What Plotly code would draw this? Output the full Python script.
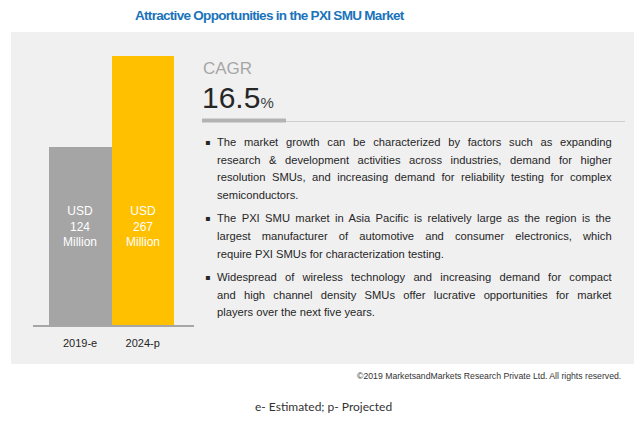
import plotly.graph_objects as go

# ---- data ----
categories = ["2019-e", "2024-p"]
values = [124, 267]
bar_colors = ["#a5a5a5", "#ffc000"]
cagr_value = "16.5"
title_text = "Attractive Opportunities in the PXI SMU Market"
bullet1 = [
    "The market growth can be characterized by factors such as expanding",
    "research & development activities across industries, demand for higher",
    "resolution SMUs, and increasing demand for reliability testing for complex",
    "semiconductors.",
]
bullet2 = [
    "The PXI SMU market in Asia Pacific is relatively large as the region is the",
    "largest manufacturer of automotive and consumer electronics, which",
    "require PXI SMUs for characterization testing.",
]
bullet3 = [
    "Widespread of wireless technology and increasing demand for compact",
    "and high channel density SMUs offer lucrative opportunities for market",
    "players over the next five years.",
]
copyright_text = "©2019 MarketsandMarkets Research Private Ltd. All rights reserved."
footnote_text = "e- Estimated; p- Projected"

W, H = 641, 422

# Arial / Liberation Sans advance widths (per 1000 em), used to justify text lines
_AW = {" ": 278, "&": 667, ",": 278, "-": 333, ".": 278, "'": 191}
_AW.update({d: 556 for d in "0123456789"})
_AW.update(dict(zip("ABCDEFGHIJKLMNOPQRSTUVWXYZ",
                    [667, 667, 722, 722, 667, 611, 778, 722, 278, 500, 667, 556, 833, 722, 778,
                     667, 778, 722, 667, 611, 722, 667, 944, 667, 667, 611])))
_AW.update(dict(zip("abcdefghijklmnopqrstuvwxyz",
                    [556, 556, 500, 556, 556, 278, 556, 556, 222, 222, 500, 222, 833, 556, 556,
                     556, 556, 333, 500, 278, 556, 500, 722, 500, 500, 500])))


def text_width(s, size):
    return sum(_AW.get(ch, 556) for ch in s) * size / 1000.0


def X(px):
    return px / W


def Y(py):
    return 1 - py / H


fig = go.Figure()
fig.add_trace(go.Bar(
    x=categories, y=values,
    marker=dict(color=bar_colors, line=dict(width=0)),
    width=1.0, hoverinfo="skip",
))

shapes = [
    dict(type="rect", xref="paper", yref="paper", x0=X(11), x1=X(634), y0=Y(364), y1=Y(32),
         fillcolor="#f0f0f0", line=dict(width=0), layer="below"),
    dict(type="rect", xref="paper", yref="paper", x0=X(202), x1=X(286), y0=Y(122.5), y1=Y(118.5),
         fillcolor="#b3b3b3", line=dict(width=0)),
    dict(type="line", xref="paper", yref="paper", x0=X(286), x1=X(625), y0=Y(121.5), y1=Y(121.5),
         line=dict(color="#cfcfcf", width=1)),
]

ann = []
ann.append(dict(text="<span style='letter-spacing:-0.7px'><b>" + title_text + "</b></span>",
                x=X(270), y=Y(16), xref="paper", yref="paper",
                showarrow=False, xanchor="center", yanchor="middle",
                font=dict(family="Liberation Sans", size=13.5, color="#1a73bb")))
for c, v in zip(categories, values):
    ann.append(dict(text=f"USD<br>{v}<br>Million", x=c, xref="x", y=Y(227), yref="paper",
                    showarrow=False, xanchor="center", yanchor="middle",
                    font=dict(family="Liberation Sans", size=12, color="#ffffff")))
ann.append(dict(text="CAGR", x=X(201), y=Y(68), xref="paper", yref="paper", showarrow=False,
                xanchor="left", yanchor="middle",
                font=dict(family="Liberation Sans", size=17, color="#a6a6a6")))
ann.append(dict(text=cagr_value + "<span style='font-size:15px;color:#404040'>%</span>",
                x=X(200), y=Y(97), xref="paper", yref="paper", showarrow=False,
                xanchor="left", yanchor="middle",
                font=dict(family="Liberation Sans", size=30, color="#262626")))

TXT_SIZE = 11.2
TXT_LEFT, TXT_RIGHT = 215, 610
line_ys = [[142, 159.5, 177, 194.5], [218, 236, 254], [277, 295, 312]]
for lines, ys in zip([bullet1, bullet2, bullet3], line_ys):
    ann.append(dict(text="▪", x=X(207), y=Y(ys[0]), xref="paper", yref="paper", showarrow=False,
                    xanchor="center", yanchor="middle",
                    font=dict(family="DejaVu Sans", size=8, color="#262626")))
    for i, (t, yy) in enumerate(zip(lines, ys)):
        shown = t.replace("&", "&amp;")
        if i < len(lines) - 1:
            gaps = t.count(" ")
            extra = (TXT_RIGHT - TXT_LEFT - text_width(t, TXT_SIZE)) / max(gaps, 1)
            shown = f"<span style='word-spacing:{extra:.2f}px'>{shown}</span>"
        ann.append(dict(text=shown, x=X(TXT_LEFT), y=Y(yy), xref="paper", yref="paper",
                        showarrow=False, xanchor="left", yanchor="middle",
                        font=dict(family="Liberation Sans", size=TXT_SIZE, color="#262626")))

ann.append(dict(text=copyright_text, x=X(623), y=Y(376), xref="paper", yref="paper", showarrow=False,
                xanchor="right", yanchor="middle",
                font=dict(family="Liberation Sans", size=8.7, color="#333333")))
ann.append(dict(text=footnote_text, x=X(323), y=Y(406), xref="paper", yref="paper", showarrow=False,
                xanchor="center", yanchor="middle",
                font=dict(family="Lato", size=12, color="#333333")))

fig.update_layout(
    width=W, height=H,
    margin=dict(l=0, r=0, t=0, b=0),
    paper_bgcolor="#ffffff", plot_bgcolor="rgba(0,0,0,0)",
    showlegend=False, bargap=0,
    shapes=shapes, annotations=ann,
    xaxis=dict(domain=[X(32.7), X(194)], type="category", range=[-0.7556, 1.8195],
               showline=True, linecolor="#a6a6a6", linewidth=1.5, showgrid=False, zeroline=False,
               ticks="", ticklabelstandoff=7, fixedrange=True,
               tickfont=dict(family="Liberation Sans", size=11, color="#262626")),
    yaxis=dict(domain=[Y(325), Y(40)], type="log", range=[1.4419, 1.4419 + 285 / 273.2],
               visible=False, fixedrange=True),
)

fig.write_html("out.html", config={"displayModeBar": False})
